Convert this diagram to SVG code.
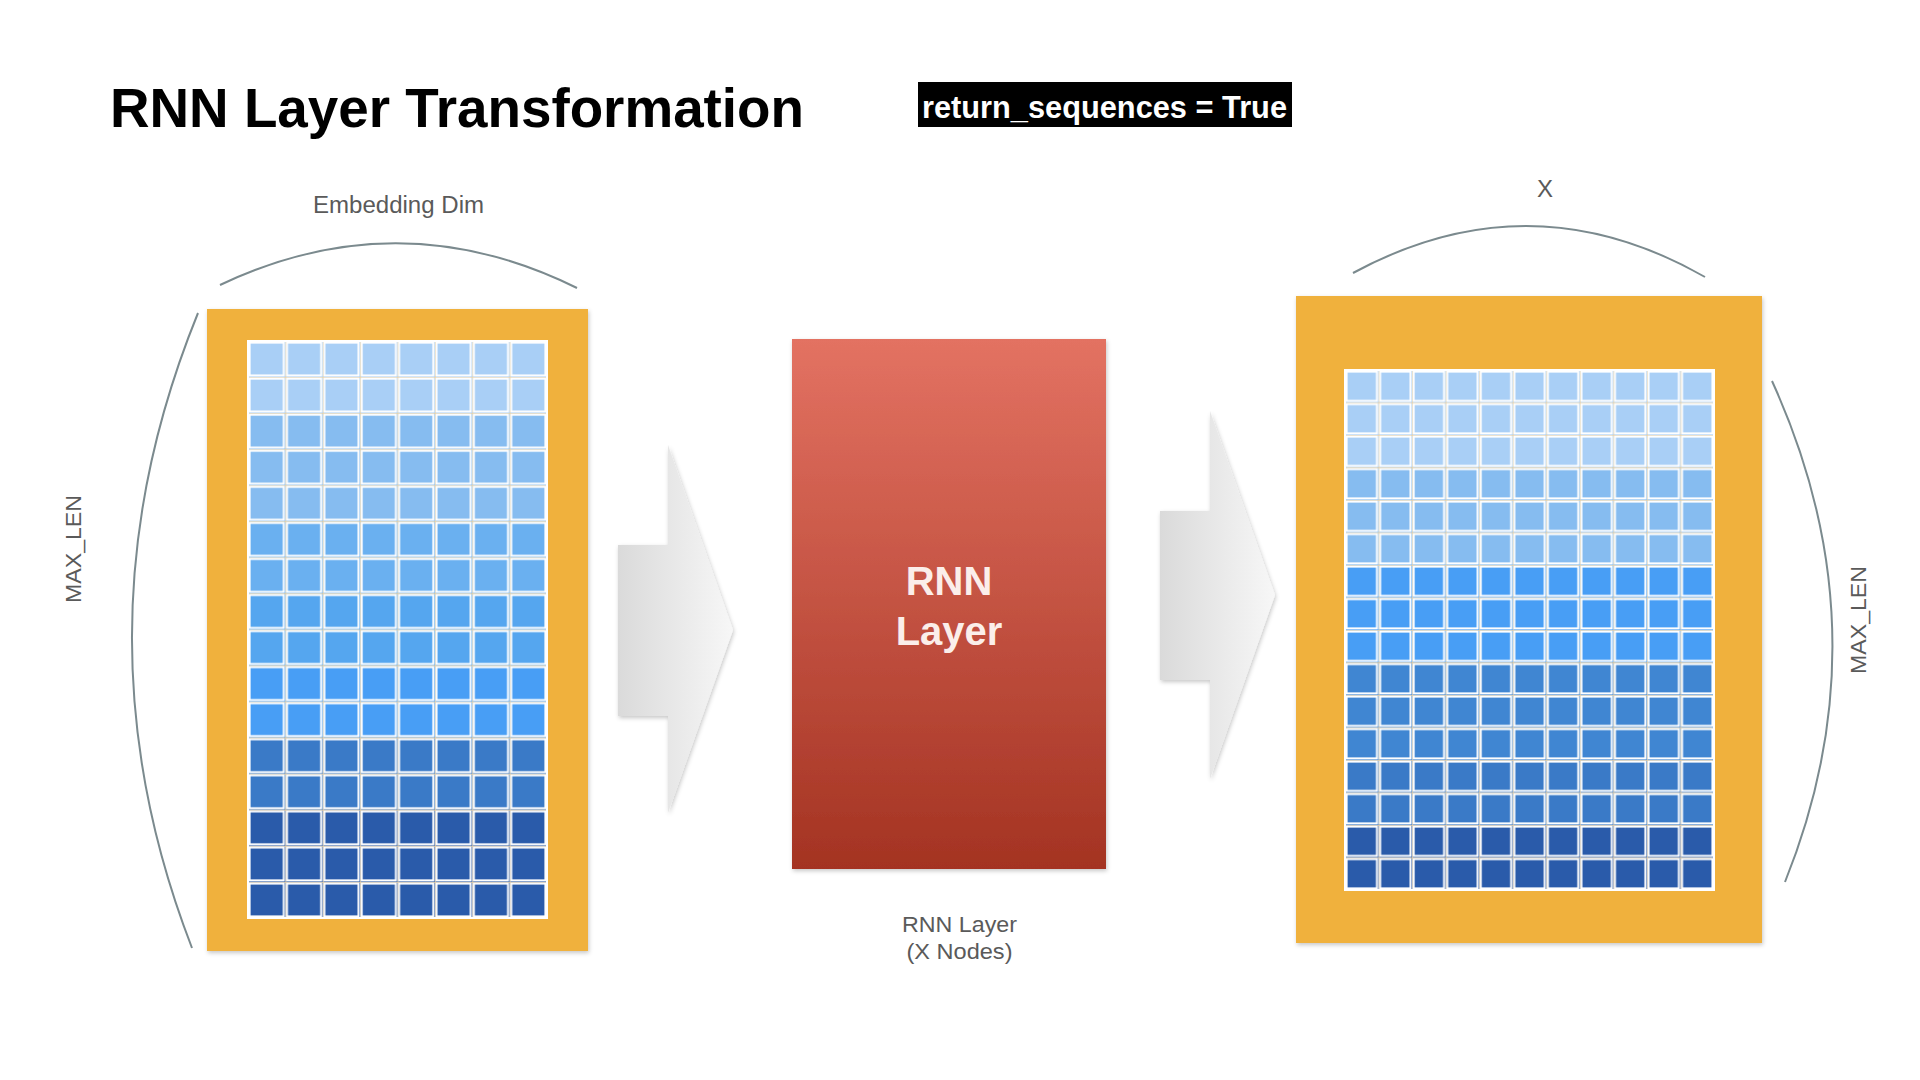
<svg xmlns="http://www.w3.org/2000/svg" width="1920" height="1080" viewBox="0 0 1920 1080">
  <style>
    .title { font-family: "Liberation Sans", Arial, sans-serif; font-weight: bold; fill: #000; }
    .lbl { font-family: "Liberation Sans", Arial, sans-serif; font-size: 22px; fill: #5a5a5a; }
    .arc { fill: none; stroke: #7b8a8e; stroke-width: 2; }
    .frame { fill: #f0b13e; }
    .c1 { fill: #a9cff6; } .c2 { fill: #86bcf0; } .c3 { fill: #6ab0f0; }
    .c4 { fill: #55a6ef; } .c5 { fill: #489ef5; } .c6 { fill: #4086d2; }
    .c7 { fill: #3a7ac7; } .c8 { fill: #2a5baa; }
  </style>
  <defs>
    <linearGradient id="rnnGrad" x1="0" y1="0" x2="0" y2="1">
      <stop offset="0" stop-color="#e37262"/>
      <stop offset="1" stop-color="#a43322"/>
    </linearGradient>
    <linearGradient id="arrowGrad" x1="0" y1="0" x2="1" y2="0">
      <stop offset="0" stop-color="#dadada"/>
      <stop offset="1" stop-color="#f7f7f7"/>
    </linearGradient>
    <filter id="shadow" x="-10%" y="-10%" width="130%" height="130%">
      <feDropShadow dx="1" dy="2" stdDeviation="2" flood-color="#000" flood-opacity="0.22"/>
    </filter>
    <pattern id="gridL" patternUnits="userSpaceOnUse" x="248" y="341" width="37.375" height="36.0625">
      <path d="M0.4 0 V36.0625 M0 0.4 H37.375" stroke="#f2cf95" stroke-width="0.8" fill="none"/>
      <rect x="1.6" y="1.6" width="34.2" height="32.9" fill="none" stroke="#fff" stroke-width="2"/>
    </pattern>
    <pattern id="gridR" patternUnits="userSpaceOnUse" x="1345" y="370" width="33.545" height="32.5">
      <path d="M0.4 0 V32.5 M0 0.4 H33.545" stroke="#f2cf95" stroke-width="0.8" fill="none"/>
      <rect x="1.6" y="1.6" width="30.4" height="29.3" fill="none" stroke="#fff" stroke-width="2"/>
    </pattern>
  </defs>

  <rect width="1920" height="1080" fill="#fff"/>

  <g id="title">
    <text class="title" x="110" y="127" font-size="56" textLength="694" lengthAdjust="spacingAndGlyphs">RNN Layer Transformation</text>
  </g>

  <g id="return-sequences">
    <rect x="918" y="82" width="374" height="45" fill="#000"/>
    <text class="title" x="922" y="118" font-size="31" style="fill:#fff" textLength="365" lengthAdjust="spacingAndGlyphs">return_sequences = True</text>
  </g>

  <g id="input-matrix">
    <rect class="frame" x="207" y="309" width="381" height="642" filter="url(#shadow)"/>
    <rect class="c1" x="248" y="341" width="299" height="72.125"/>
    <rect class="c2" x="248" y="413.125" width="299" height="108.19"/>
    <rect class="c3" x="248" y="521.31" width="299" height="72.125"/>
    <rect class="c4" x="248" y="593.44" width="299" height="72.125"/>
    <rect class="c5" x="248" y="665.56" width="299" height="72.125"/>
    <rect class="c7" x="248" y="737.69" width="299" height="72.125"/>
    <rect class="c8" x="248" y="809.81" width="299" height="108.19"/>
    <rect x="248" y="341" width="299" height="577" fill="url(#gridL)"/>
    <rect x="248" y="341" width="299" height="577" fill="none" stroke="#fff" stroke-width="2"/>
  </g>

  <g id="embedding-dim-label">
    <text class="lbl" x="398.5" y="213" text-anchor="middle" style="font-size:23px" textLength="171" lengthAdjust="spacingAndGlyphs">Embedding Dim</text>
  </g>

  <g id="max-len-left-label">
    <text class="lbl" transform="translate(81,549) rotate(-90)" text-anchor="middle" textLength="108" lengthAdjust="spacingAndGlyphs">MAX_LEN</text>
  </g>

  <g id="rnn-layer">
    <rect x="792" y="339" width="314" height="530" fill="url(#rnnGrad)" filter="url(#shadow)"/>
    <text class="title" x="949" y="595" font-size="40" text-anchor="middle" style="fill:#fbeeea">RNN</text>
    <text class="title" x="949" y="645" font-size="40" text-anchor="middle" style="fill:#fbeeea">Layer</text>
  </g>

  <g id="rnn-layer-label">
    <text class="lbl" x="959.5" y="932" text-anchor="middle" textLength="115" lengthAdjust="spacingAndGlyphs">RNN Layer</text>
    <text class="lbl" x="959.5" y="959" text-anchor="middle" textLength="106" lengthAdjust="spacingAndGlyphs">(X Nodes)</text>
  </g>

  <g id="output-matrix">
    <rect class="frame" x="1296" y="296" width="466" height="647" filter="url(#shadow)"/>
    <rect class="c1" x="1345" y="370" width="369" height="97.5"/>
    <rect class="c2" x="1345" y="467.5" width="369" height="97.5"/>
    <rect class="c5" x="1345" y="565" width="369" height="97.5"/>
    <rect class="c6" x="1345" y="662.5" width="369" height="97.5"/>
    <rect class="c7" x="1345" y="760" width="369" height="65"/>
    <rect class="c8" x="1345" y="825" width="369" height="65"/>
    <rect x="1345" y="370" width="369" height="520" fill="url(#gridR)"/>
    <rect x="1345" y="370" width="369" height="520" fill="none" stroke="#fff" stroke-width="2"/>
  </g>

  <g id="x-label">
    <text class="lbl" x="1545" y="197" text-anchor="middle" style="font-size:24px">X</text>
  </g>

  <g id="max-len-right-label">
    <text class="lbl" transform="translate(1866,620) rotate(-90)" text-anchor="middle" textLength="108" lengthAdjust="spacingAndGlyphs">MAX_LEN</text>
  </g>

  <g id="connectors">
    <path d="M618 545 H668 V445 L733 630 L668 813 V716 H618 Z" fill="url(#arrowGrad)" filter="url(#shadow)"/>
    <path d="M1160 511 H1210 V411 L1275 595 L1210 779 V680 H1160 Z" fill="url(#arrowGrad)" filter="url(#shadow)"/>
    <path class="arc" d="M220 285 Q399 200 577 288"/>
    <path class="arc" d="M198 313 Q69 630 192 948"/>
    <path class="arc" d="M1353 273 Q1530 177 1705 277"/>
    <path class="arc" d="M1772 381 Q1886 631 1785 882"/>
  </g>
</svg>
